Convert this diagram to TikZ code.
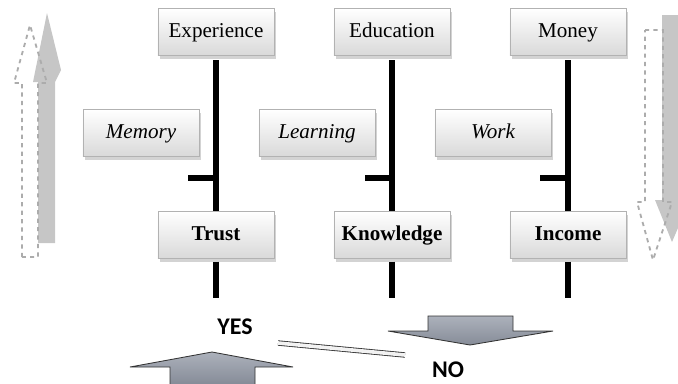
\documentclass[tikz,border=0pt]{standalone}
\usepackage{fontspec}
\setmainfont{Liberation Serif}
\newfontfamily\calibri{Carlito}
\usetikzlibrary{shadows}

\definecolor{azulclaro}{RGB}{172,177,187}
\definecolor{azulescuro}{RGB}{134,140,152}

\tikzset{
  caixa/.style={draw=gray!60, top color=white, bottom color=gray!30, minimum width=2.9cm, minimum height=1.175cm,
    inner sep=0pt, text height=10.5pt, text depth=3pt, font=\fontsize{15}{18}\selectfont,
    drop shadow={shadow xshift=0.06cm, shadow yshift=-0.08cm, opacity=0.35}},
  linha/.style={line width=3.6pt, black},
  seta/.style={draw=gray!40!black, top color=azulclaro, bottom color=azulescuro, line width=0.6pt},
  fundo/.style={fill=gray!45, draw=none},
  tracejado/.style={draw=gray!65, dashed, line width=1.3pt},
  rotulo/.style={font=\calibri\bfseries\fontsize{17}{20}\selectfont}
}

\begin{document}
\begin{tikzpicture}[x=0.025cm, y=-0.025cm] %Coordenadas em pixels
  \useasboundingbox (0,0) rectangle (678,383);
    %Setas laterais
  \fill[fundo] (38,243) -- (38,82) -- (33,82) -- (47,13) -- (61,70) -- (55,82) -- (55,243) -- cycle; %Seta cinza esquerda
  \draw[tracejado] (22,257) -- (22,83) -- (14,83) -- (30,25) -- (47,83) -- (38,83) -- (38,257) -- cycle;
  \fill[fundo] (662,15) -- (685,15) -- (685,200) -- (690,200) -- (672,242) -- (655,200) -- (662,200) -- cycle; %Seta cinza direita
  \draw[tracejado] (645,30) -- (663,30) -- (663,202) -- (672,202) -- (653,260) -- (637,202) -- (645,202) -- cycle;

    %Caixas de cima
  \node[caixa] (exp) at (216,32) {Experience};
  \node[caixa] (edu) at (392,32) {Education};
  \node[caixa] (mon) at (568,32) {Money};
    %Caixas do meio
  \node[caixa, font=\fontsize{15}{18}\selectfont\itshape] (mem) at (141,133) {Memory};
  \node[caixa, font=\fontsize{15}{18}\selectfont\itshape] (lea) at (317,133) {Learning};
  \node[caixa, font=\fontsize{15}{18}\selectfont\itshape] (wor) at (493,133) {Work};
    %Caixas de baixo
  \node[caixa, font=\fontsize{15}{18}\selectfont\bfseries] (tru) at (216,235) {Trust};
  \node[caixa, font=\fontsize{15}{18}\selectfont\bfseries] (kno) at (392,235) {Knowledge};
  \node[caixa, font=\fontsize{15}{18}\selectfont\bfseries] (inc) at (568,235) {Income};

    %Linhas
  \coordinate (t1) at (188,178);
  \coordinate (t2) at (365,178);
  \coordinate (t3) at (540,178);
  \coordinate (f1) at (216,298);
  \coordinate (f2) at (392,298);
  \coordinate (f3) at (568,298);

  \draw[linha] ([yshift=-3pt]exp.south) -- (tru.north);
  \draw[linha] (t1) -- (t1 -| exp.south);
  \draw[linha] ([yshift=-2pt]tru.south) -- (f1);

  \draw[linha] ([yshift=-3pt]edu.south) -- (kno.north);
  \draw[linha] (t2) -- (t2 -| edu.south);
  \draw[linha] ([yshift=-2pt]kno.south) -- (f2);

  \draw[linha] ([yshift=-3pt]mon.south) -- (inc.north);
  \draw[linha] (t3) -- (t3 -| mon.south);
  \draw[linha] ([yshift=-2pt]inc.south) -- (f3);

    %Balanca
  \node[rotulo] (sim) at (235,327) {YES};
  \node[rotulo] (nao) at (448,370) {NO};
  \draw[gray!40!black, double=gray!10, double distance=2.6pt, line width=0.6pt] (278,343) -- (405,355);
  \draw[seta] (170,384) -- (170,367) -- (130,367) -- (212,352) -- (293,367) -- (255,367) -- (255,384); %Seta para cima
  \draw[seta] (428,316) -- (513,316) -- (513,331) -- (553,331) -- (470,345) -- (388,331) -- (428,331) -- cycle; %Seta para baixo
\end{tikzpicture}
\end{document}
